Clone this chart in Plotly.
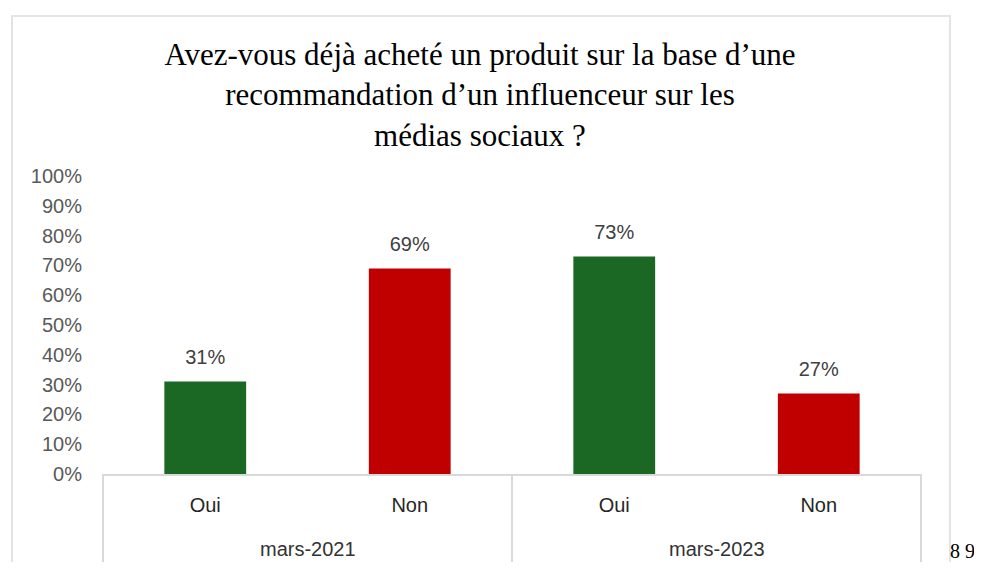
import plotly.graph_objects as go

groups = ["mars-2021", "mars-2021", "mars-2023", "mars-2023"]
answers = ["Oui", "Non", "Oui", "Non"]
values = [0.31, 0.69, 0.73, 0.27]
labels = ["31%", "69%", "73%", "27%"]
bar_colors = ["#1b6824", "#c00000", "#1b6824", "#c00000"]
y_ticks = [i / 10 for i in range(11)]
title_lines = ["Avez-vous déjà acheté un produit sur la base d’une",
               "recommandation d’un influenceur sur les",
               "médias sociaux ?"]
page_note = "8 9"

# page body has an 8px margin: work in screen coords, convert to figure coords
OFF = 8
W, H = 982 - OFF, 570 - 2 * OFF
L, R, T, B = 103 - OFF, 921 - OFF, 176 - OFF, 474 - OFF

def px(x):
    return (x - OFF - L) / (R - L)

def py(y):
    return (B - (y - OFF)) / (B - T)

idx = list(range(len(answers)))
group_names = list(dict.fromkeys(groups))
group_centers = [sum(i for i, g in zip(idx, groups) if g == gn) / groups.count(gn)
                 for gn in group_names]

fig = go.Figure()
fig.add_trace(go.Bar(
    x=idx, y=values, width=0.4,
    marker=dict(color=bar_colors, line=dict(width=0)),
    hoverinfo="skip", showlegend=False,
))
fig.add_trace(go.Scatter(
    x=idx, y=values, mode="markers+text",
    text=labels, textposition="top center",
    marker=dict(size=18, opacity=0),
    textfont=dict(family="Liberation Sans", size=20, color="#404040"),
    hoverinfo="skip", showlegend=False,
))

shapes = [
    dict(type="rect", xref="paper", yref="paper",
         x0=px(12), x1=px(950), y0=py(620), y1=py(16),
         line=dict(color="#e4e4e4", width=2), fillcolor="rgba(0,0,0,0)", layer="below"),
]
for xv in [0, 0.5, 1]:
    shapes.append(dict(type="line", xref="paper", yref="paper",
                       x0=xv, x1=xv, y0=0, y1=py(570),
                       line=dict(color="#d9d9d9", width=2)))

annotations = [dict(text=gn, xref="x", yref="paper", x=gc, y=py(549),
                    xanchor="center", yanchor="middle", showarrow=False,
                    font=dict(family="Liberation Sans", size=20, color="#333333"))
               for gn, gc in zip(group_names, group_centers)]
annotations.append(dict(text=page_note, xref="paper", yref="paper",
                        x=px(948), y=py(551), xanchor="left", yanchor="middle",
                        showarrow=False,
                        font=dict(family="Liberation Serif", size=20, color="#000000")))

fig.update_layout(
    width=W, height=H,
    margin=dict(l=L, r=W - R, t=T, b=H - B, pad=0),
    paper_bgcolor="white", plot_bgcolor="white",
    title=dict(text="<br>".join(title_lines), x=(480 - OFF) / W, xanchor="center",
               xref="container", yref="container", y=1 - 57 / H, yanchor="top",
               font=dict(family="Liberation Serif", size=31, color="#000000")),
    xaxis=dict(range=[-0.5, len(idx) - 0.5], tickvals=idx, ticktext=answers,
               showline=True, linecolor="#d9d9d9", linewidth=2,
               showgrid=False, zeroline=False, ticks="outside", ticklen=12,
               tickcolor="rgba(0,0,0,0)",
               tickfont=dict(family="Liberation Sans", size=20, color="#262626")),
    yaxis=dict(range=[0, 1], tickvals=y_ticks, tickformat=".0%", showgrid=False,
               zeroline=False, showline=False, ticks="", ticklabelstandoff=20,
               tickfont=dict(family="Liberation Sans", size=20, color="#595959")),
    shapes=shapes,
    annotations=annotations,
)

fig.write_html("out.html")
